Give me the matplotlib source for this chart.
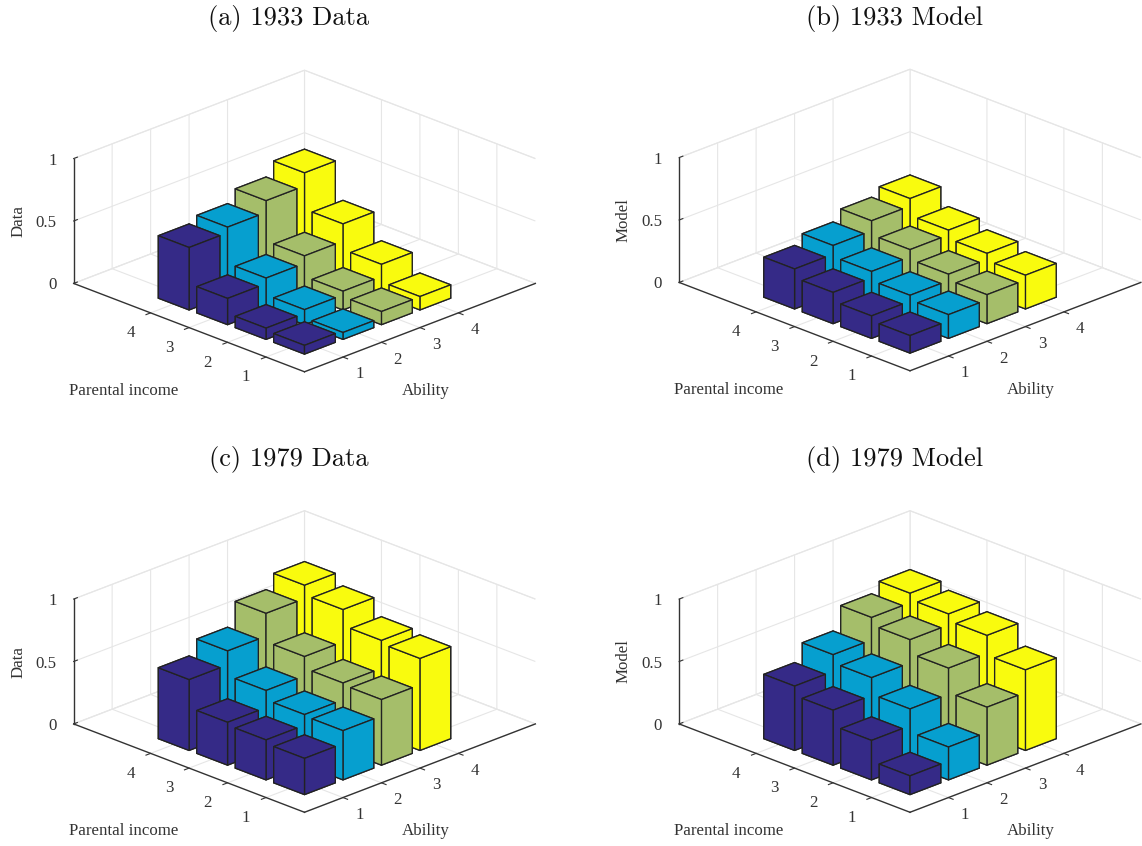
#!/usr/bin/env python3
# 3D bars: college attendance by ability and parental income, data vs model
import matplotlib
matplotlib.use("Agg")
import matplotlib.pyplot as plt

ability = [1, 2, 3, 4]
parental = [1, 2, 3, 4]

# rows = ability 1..4, columns = parental income 1..4
data_1933 = [[0.07, 0.09, 0.21, 0.50],
             [0.055, 0.12, 0.255, 0.545],
             [0.105, 0.15, 0.315, 0.64],
             [0.107, 0.247, 0.453, 0.745]]
model_1933 = [[0.14, 0.18, 0.25, 0.32],
              [0.19, 0.227, 0.30, 0.39],
              [0.232, 0.278, 0.357, 0.47],
              [0.27, 0.327, 0.395, 0.53]]
data_1979 = [[0.29, 0.32, 0.343, 0.568],
             [0.394, 0.405, 0.48, 0.68],
             [0.525, 0.54, 0.635, 0.863],
             [0.737, 0.764, 0.893, 0.97]]
model_1979 = [[0.15, 0.316, 0.44, 0.515],
              [0.263, 0.45, 0.584, 0.65],
              [0.464, 0.66, 0.77, 0.83],
              [0.646, 0.804, 0.858, 0.906]]

titles = ["(a) 1933 Data", "(b) 1933 Model", "(c) 1979 Data", "(d) 1979 Model"]
zlabels = ["Data", "Model", "Data", "Model"]
values = [data_1933, model_1933, data_1979, model_1979]
colors = ["#352A87", "#069FCF", "#A5BE6A", "#F9FB0E"]

GRID = "#E6E6E6"
DARK = "#333333"
W, H = 1142, 846
SIDE = 467  # square 3D axes, pixels
FS = 12.2

# where the middle of the box lands in the picture
centers = [(304.5, 221), (910, 220), (304.5, 661.5), (910, 661.5)]
title_xy = [(289, 18.5), (894.5, 18.5), (289, 459.5), (894.5, 459.5)]

fig = plt.figure(figsize=(W / 100, H / 100), dpi=100)
plt.rcParams["font.family"] = "Liberation Serif"

for k in range(4):
    cx, cy = centers[k]
    left = cx - 0.95 / 1.85 * SIDE
    bottom = H - cy - 0.95 / 1.85 * SIDE
    ax = fig.add_axes([left / W, bottom / H, SIDE / W, SIDE / H],
                      projection="3d", computed_zorder=False)
    ax.patch.set_alpha(0)
    ax.set_proj_type("ortho")
    ax.view_init(elev=22.5, azim=-135)

    z = values[k]
    # back to front
    order = sorted([(a, p) for a in range(4) for p in range(4)], key=lambda t: -(t[0] + t[1]))
    for n, (a, p) in enumerate(order):
        ax.bar3d(ability[a] - 0.4, parental[p] - 0.4, 0, 0.8, 0.8, z[a][p],
                 color=colors[a], edgecolor="#222222", linewidth=0.95, shade=False, zorder=10 + n)

    ax.set_xlim(0, 6)
    ax.set_ylim(0, 6)
    ax.set_zlim(0, 1)
    ax.set_box_aspect((1, 1, 0.414))

    ax.set_xticks(ability)
    ax.set_yticks(parental)
    ax.set_zticks([0, 0.5, 1])
    ax.set_zticklabels(["0", "0.5", "1"])
    ax.tick_params(labelsize=FS, colors=DARK)
    ax.tick_params(axis="x", pad=4.5)
    ax.tick_params(axis="y", pad=7)
    ax.tick_params(axis="z", pad=-1.5)

    for t in ax.get_xticklabels() + ax.get_yticklabels() + ax.get_zticklabels():
        t.set_va("center_baseline")
    for t in ax.get_zticklabels():
        t.set_ha("right")

    for axis in (ax.xaxis, ax.yaxis, ax.zaxis):
        axis.set_pane_color((1, 1, 1, 1))
        axis.pane.set_edgecolor(GRID)
        axis.pane.set_linewidth(0.8)
        axis.line.set_color(DARK)
        axis.line.set_linewidth(1.0)
        axis.offsetText.set_visible(False)
        axis._axinfo["grid"]["color"] = GRID
        axis._axinfo["grid"]["linewidth"] = 0.8
        axis._axinfo["tick"]["inward_factor"] = 0.25
        axis._axinfo["tick"]["outward_factor"] = 0.0
        axis._axinfo["tick"]["linewidth"] = {True: 0.8, False: 0.8}
    ax.zaxis._axinfo["tick"]["inward_factor"] = 0.0
    ax.zaxis._axinfo["tick"]["outward_factor"] = 0.2
    ax.xaxis.label.set_visible(False)
    ax.yaxis.label.set_visible(False)

    ax.zaxis.set_rotate_label(True)
    ax.set_zlabel(zlabels[k], fontsize=FS, color=DARK, labelpad=0)

    # axis names sit under the box, not along the edges
    ax.text(2.64, -0.5, -0.404, "Ability", fontsize=FS, color=DARK, ha="center", va="center")
    ax.text(-1, 3.7, -0.472, "Parental income", fontsize=FS, color=DARK, ha="center", va="center")

    fig.text(title_xy[k][0] / W, 1 - title_xy[k][1] / H, titles[k], family="cmr10",
             fontsize=19, color="#111111", ha="center", va="center")

fig.savefig("out.png", dpi=100)
